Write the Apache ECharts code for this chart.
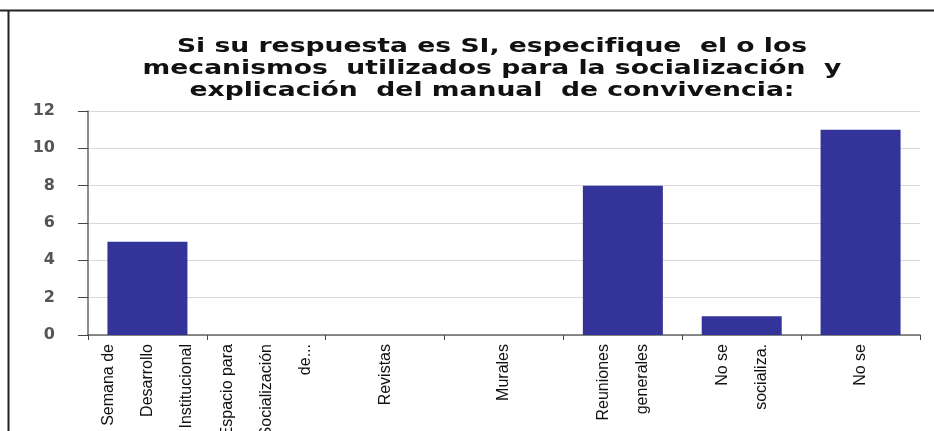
<!DOCTYPE html>
<html lang="es">
<head>
<meta charset="utf-8">
<title>Mecanismos de socialización</title>
<script src="https://cdn.jsdelivr.net/npm/echarts@6/dist/echarts.min.js"></script>
<style>
    html, body { margin: 0; padding: 0; background: #fff; }
    #main { width: 934px; height: 431px; }
</style>
</head>
<body>
<div id="main"></div>
<script>
    var categorias = [
        'Semana de\nDesarrollo\nInstitucional',
        'Espacio para\nSocialización\nde...',
        'Revistas',
        'Murales',
        'Reuniones\ngenerales',
        'No se\nsocializa.',
        'No se'
    ];
    var valores = [5, 0, 0, 0, 8, 1, 11];
    var titulo = 'Si su respuesta es SI, especifique  el o los\nmecanismos  utilizados para la socialización  y\nexplicación  del manual  de convivencia:';

    var myChart = echarts.init(document.getElementById('main'));
    var option = {
        animation: false,
        graphic: [
            { type: 'line', shape: { x1: 0, y1: 10.5, x2: 934, y2: 10.5 }, style: { stroke: '#222', lineWidth: 2 } },
            { type: 'line', shape: { x1: 8.5, y1: 10, x2: 8.5, y2: 431 }, style: { stroke: '#222', lineWidth: 2 } },
            // titulo: la imagen original esta estirada en horizontal
            {
                type: 'text',
                x: 492,
                y: 36,
                scaleX: 1.4,
                style: {
                    text: titulo,
                    x: 0,
                    y: 0,
                    align: 'center',
                    verticalAlign: 'top',
                    fontFamily: 'DejaVu Sans',
                    fontWeight: 'bold',
                    fontSize: 19,
                    lineHeight: 22,
                    fill: '#111'
                }
            }
        ],
        grid: { left: 88, right: 14, top: 111, bottom: 96, outerBoundsMode: 'none' },
        xAxis: {
            type: 'category',
            data: categorias,
            axisLine: { lineStyle: { color: '#666', width: 1.5 } },
            axisTick: { show: true, length: 5, lineStyle: { color: '#444' } },
            axisLabel: {
                rotate: 90,
                interval: 0,
                margin: 9,
                fontFamily: 'Liberation Sans',
                fontSize: 16,
                lineHeight: 39,
                color: '#111'
            }
        },
        yAxis: [{
            // eje con linea y marcas
            type: 'value',
            min: 0,
            max: 12,
            interval: 2,
            axisLine: { show: true, lineStyle: { color: '#666', width: 1.5 } },
            axisTick: { show: true, length: 10, lineStyle: { color: '#444' } },
            splitLine: { lineStyle: { color: '#d9d9d9' } },
            axisLabel: { show: false }
        }, {
            // solo etiquetas, mas a la izquierda
            type: 'value',
            position: 'left',
            offset: 25,
            min: 0,
            max: 12,
            interval: 2,
            axisLine: { show: false },
            axisTick: { show: false },
            splitLine: { show: false },
            axisLabel: {
                margin: 8,
                fontFamily: 'DejaVu Sans',
                fontWeight: 'bold',
                fontSize: 16,
                color: '#555'
            }
        }],
        series: [{
            type: 'bar',
            data: valores,
            barWidth: 80,
            itemStyle: { color: '#333399' }
        }]
    };
    myChart.setOption(option);
</script>
</body>
</html>
